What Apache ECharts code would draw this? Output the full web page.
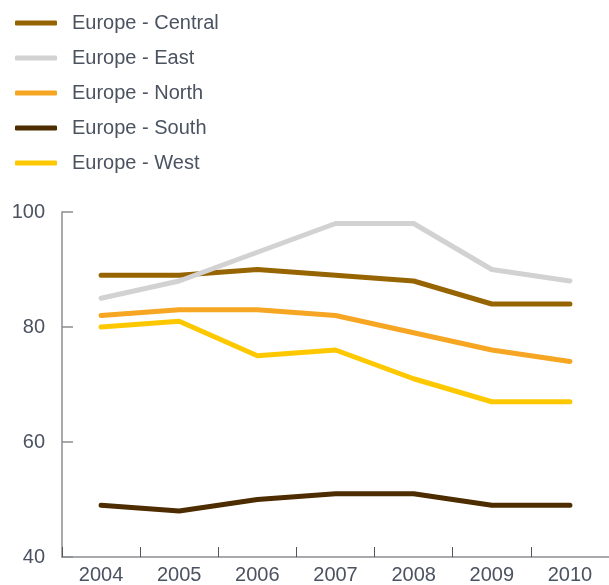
<!DOCTYPE html>
<html>
<head>
<meta charset="utf-8">
<script src="https://cdn.jsdelivr.net/npm/echarts@6/dist/echarts.min.js"></script>
<style>
  html, body { margin: 0; padding: 0; background: #fff; }
  #chart { width: 609px; height: 585px; }
</style>
</head>
<body>
<div id="chart"></div>
<script>
const years = ['2004', '2005', '2006', '2007', '2008', '2009', '2010'];
const central = [89, 89, 90, 89, 88, 84, 84];
const east = [85, 88, 93, 98, 98, 90, 88];
const north = [82, 83, 83, 82, 79, 76, 74];
const south = [49, 48, 50, 51, 51, 49, 49];
const west = [80, 81, 75, 76, 71, 67, 67];

const names = ['Europe - Central', 'Europe - East', 'Europe - North', 'Europe - South', 'Europe - West'];
const colors = ['#966400', '#d2d2d2', '#f6a623', '#4d2c00', '#fdc800'];
const seriesData = [central, east, north, south, west];

const textColor = '#4b5260';
const axisColor = '#8a8d92';
const font = 'Liberation Sans, Arial, sans-serif';

let chart = echarts.init(document.getElementById('chart'));
let option = {
  animation: false,
  backgroundColor: '#fff',
  color: colors,
  legend: {
    orient: 'vertical',
    left: 10,
    top: 8,
    icon: 'roundRect',
    itemWidth: 42,
    itemHeight: 5,
    itemGap: 15,
    textStyle: {
      color: textColor,
      fontSize: 20,
      fontFamily: font,
      padding: [0, 0, 0, 10]
    },
    data: names
  },
  grid: {
    left: 62,
    right: 0,
    top: 212,
    bottom: 27
  },
  xAxis: {
    type: 'category',
    data: years,
    boundaryGap: true,
    axisLine: { show: true, lineStyle: { color: axisColor, width: 1.5 } },
    axisTick: { show: true, inside: true, length: 10, interval: 0, lineStyle: { color: '#555' } },
    axisLabel: { color: textColor, fontSize: 20, fontFamily: font, margin: 8 }
  },
  yAxis: {
    type: 'value',
    min: 40,
    max: 100,
    interval: 20,
    splitLine: { show: false },
    axisLine: { show: true, lineStyle: { color: axisColor, width: 1.5 } },
    axisTick: { show: true, inside: true, length: 11, lineStyle: { color: axisColor, width: 1.5 } },
    axisLabel: { color: textColor, fontSize: 20, fontFamily: font, margin: 17 }
  },
  series: names.map((n, i) => ({
    name: n,
    type: 'line',
    data: seriesData[i],
    symbol: 'none',
    lineStyle: { width: 5, color: colors[i], cap: 'round', join: 'round' },
    itemStyle: { color: colors[i] },
    z: 2
  }))
};
chart.setOption(option);
</script>
</body>
</html>
